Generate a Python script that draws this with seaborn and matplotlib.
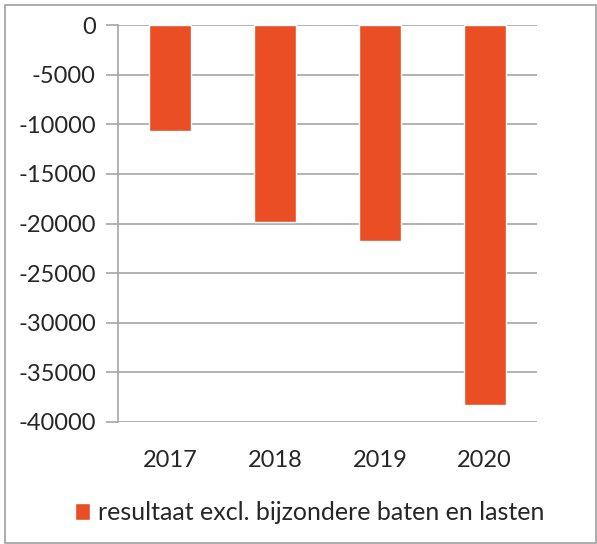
import matplotlib
matplotlib.use('Agg')
import matplotlib.pyplot as plt
import seaborn as sns
import pandas as pd
from matplotlib.patches import Rectangle

# chart data
years = ['2017', '2018', '2019', '2020']
resultaat = [-10700, -19800, -21800, -38300]
series_name = 'resultaat excl. bijzondere baten en lasten'
y_ticks = [0, -5000, -10000, -15000, -20000, -25000, -30000, -35000, -40000]

df = pd.DataFrame({'jaar': years, 'waarde': resultaat})

sns.set_style('white')
plt.rcParams['font.family'] = ['Lato', 'DejaVu Sans']

bar_color = '#E94E24'
grid_color = '#A6A6A6'

fig = plt.figure(figsize=(5.97, 5.44), dpi=100)
ax = fig.add_axes([118 / 597, 1 - 422 / 544, (537 - 118) / 597, (422 - 25) / 544])

sns.barplot(data=df, x='jaar', y='waarde', color=bar_color, width=0.4,
            saturation=1, ax=ax, label=series_name, zorder=3)

ax.set_ylim(-40000, 0)
ax.set_xlim(-0.5, 3.5)
ax.set_yticks(y_ticks)
ax.set_yticklabels([str(t) for t in y_ticks], fontsize=17)
ax.set_xlabel('')
ax.set_ylabel('')
ax.grid(axis='y', color=grid_color, linewidth=1.2, zorder=0)
ax.grid(axis='x', visible=False)
for side in ['top', 'right', 'bottom']:
    ax.spines[side].set_visible(False)
ax.spines['left'].set_color(grid_color)
ax.spines['left'].set_linewidth(1.2)
ax.tick_params(axis='y', length=9, width=1.2, color=grid_color, pad=7, left=True)
ax.tick_params(axis='x', length=0, pad=20, labelsize=17)

leg = ax.legend(loc='upper center', bbox_to_anchor=(0.5 - 0.043, -0.143), frameon=False,
                fontsize=18, handlelength=0.62, handleheight=0.62, handletextpad=0.3)

fig.patches.append(Rectangle((5 / 597, 1 / 544), 591 / 597, 538 / 544,
                             transform=fig.transFigure, fill=False,
                             edgecolor='#A0A0A0', linewidth=1.2))

fig.savefig('out.png', dpi=100)
